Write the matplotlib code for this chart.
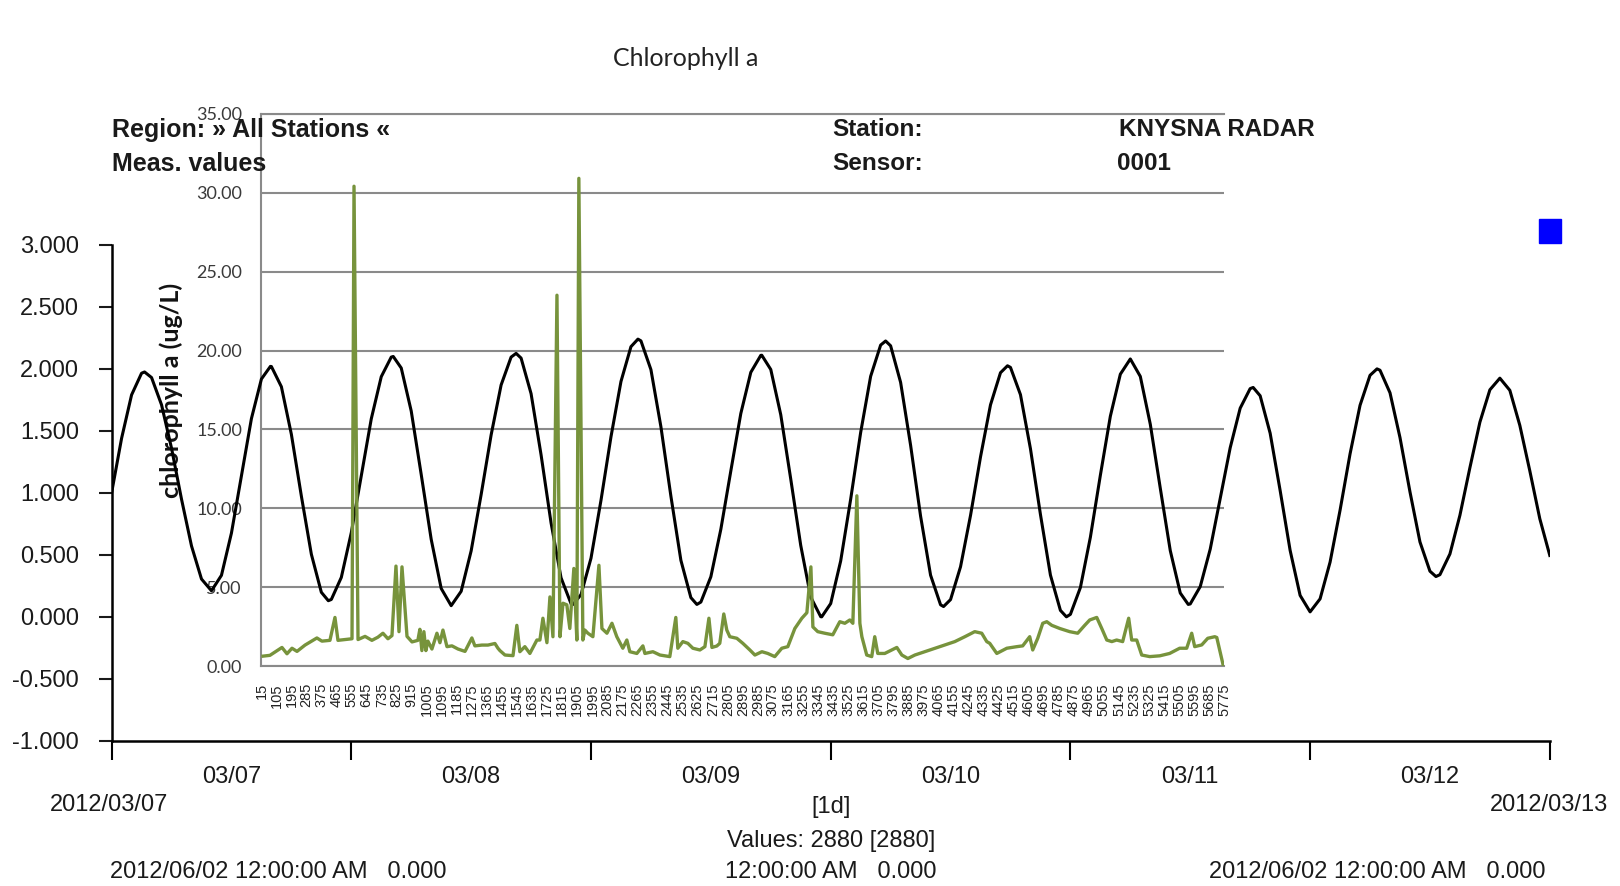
import numpy as np
import pandas as pd
import matplotlib
matplotlib.use('Agg')
import matplotlib.pyplot as plt
import matplotlib.dates as mdates
from matplotlib.patches import Rectangle

plt.rcParams['font.family'] = ['Liberation Sans', 'DejaVu Sans']

# tide level (outer chart), hourly from 2012/03/07 00:00 to 2012/03/13 00:00
tide_start = '2012-03-07 00:00'
tide_level = [1.00, 1.44, 1.79, 1.965, 1.93, 1.71, 1.36, 0.949, 0.572, 0.305, 0.21,
              0.335, 0.676, 1.138, 1.599, 1.918, 2.019, 1.856, 1.472, 0.974, 0.505,
              0.198, 0.140, 0.318, 0.679, 1.140, 1.597, 1.937, 2.095, 2.007, 1.660,
              1.148, 0.625, 0.229, 0.09, 0.206, 0.532, 0.986, 1.467, 1.870, 2.095,
              2.087, 1.800, 1.307, 0.758, 0.315, 0.106, 0.179, 0.473, 0.940, 1.452,
              1.898, 2.179, 2.226, 1.994, 1.533, 0.973, 0.456, 0.155, 0.119, 0.323,
              0.706, 1.177, 1.640, 1.972, 2.109, 1.995, 1.630, 1.111, 0.576, 0.159,
              0.001, 0.107, 0.451, 0.949, 1.487, 1.940, 2.192, 2.186, 1.891, 1.384,
              0.812, 0.336, 0.097, 0.139, 0.404, 0.818, 1.290, 1.710, 1.969, 2.012,
              1.792, 1.356, 0.826, 0.337, 0.052, 0.020, 0.236, 0.642, 1.142, 1.618,
              1.957, 2.08, 1.939, 1.553, 1.037, 0.534, 0.192, 0.104, 0.244, 0.546,
              0.953, 1.364, 1.683, 1.841, 1.783, 1.481, 1.019, 0.536, 0.173, 0.04,
              0.145, 0.441, 0.860, 1.314, 1.706, 1.948, 1.989, 1.807, 1.446, 1.008,
              0.604, 0.368, 0.340, 0.507, 0.819, 1.203, 1.570, 1.831, 1.925, 1.827,
              1.544, 1.177, 0.791, 0.495]
# high / low water (hours after start, level)
tide_ext_hours = [3.3, 15.9, 21.7, 28.2, 40.5, 46.2, 52.7, 58.6, 65.1, 71.1,
                  77.5, 83.3, 89.7, 95.6, 107.8, 114.3, 126.7, 132.6]
tide_ext_level = [1.975, 2.02, 0.13, 2.10, 2.125, 0.10, 2.24, 0.10, 2.11, 0.0,
                  2.225, 0.083, 2.025, 0.0, 0.10, 1.85, 2.0, 0.325]
tide_yticks = [-1.0, -0.5, 0.0, 0.5, 1.0, 1.5, 2.0, 2.5, 3.0]

# chlorophyll a (inner chart), sample number vs ug/L
chl_idx = [25, 66, 138, 168, 198, 228, 276, 347, 377, 425,
           455, 473, 557, 569, 593, 635, 676, 712, 742, 772,
           796, 820, 838, 856, 886, 916, 951, 963, 975, 987,
           999, 1011, 1035, 1065, 1083, 1101, 1125, 1155, 1191, 1233,
           1274, 1292, 1334, 1370, 1412, 1430, 1442, 1472, 1520, 1543,
           1561, 1591, 1621, 1663, 1681, 1699, 1723, 1741, 1759, 1783,
           1801, 1819, 1842, 1860, 1884, 1902, 1914, 1938, 1950, 1968,
           1998, 2034, 2052, 2082, 2112, 2141, 2177, 2201, 2219, 2261,
           2297, 2309, 2357, 2399, 2458, 2494, 2506, 2536, 2566, 2596,
           2638, 2668, 2692, 2710, 2739, 2757, 2781, 2799, 2817, 2859,
           2895, 2937, 2967, 3009, 3044, 3086, 3128, 3164, 3206, 3248,
           3278, 3302, 3314, 3343, 3385, 3433, 3475, 3505, 3535, 3553,
           3577, 3595, 3607, 3636, 3666, 3684, 3702, 3744, 3786, 3816,
           3846, 3882, 3924, 3983, 4043, 4103, 4163, 4223, 4282, 4324,
           4354, 4372, 4414, 4474, 4534, 4569, 4611, 4629, 4659, 4689,
           4713, 4743, 4791, 4850, 4898, 4940, 4970, 5012, 5042, 5072,
           5102, 5131, 5167, 5203, 5221, 5251, 5281, 5329, 5389, 5448,
           5508, 5550, 5580, 5598, 5640, 5676, 5718, 5730, 5770]
chl_val = [0.65, 0.7, 1.2, 0.8, 1.15, 0.95, 1.35, 1.8, 1.6, 1.65,
           3.1, 1.65, 1.75, 30.4, 1.7, 1.9, 1.65, 1.85, 2.1, 1.75,
           1.95, 6.35, 2.2, 6.3, 1.9, 1.55, 1.65, 2.35, 1.0, 2.2,
           1.0, 1.6, 1.1, 2.1, 1.5, 2.3, 1.25, 1.3, 1.1, 0.95,
           1.8, 1.3, 1.35, 1.35, 1.45, 1.15, 1.0, 0.72, 0.68, 2.6,
           0.93, 1.25, 0.82, 1.67, 1.67, 3.05, 1.5, 4.4, 1.88, 23.5,
           1.88, 4.0, 3.9, 2.4, 6.2, 1.67, 30.9, 1.67, 2.3, 2.1,
           1.88, 6.4, 2.4, 2.1, 2.73, 1.88, 1.15, 1.67, 0.93, 0.82,
           1.3, 0.82, 0.93, 0.72, 0.62, 3.1, 1.15, 1.57, 1.46, 1.15,
           1.04, 1.25, 3.05, 1.2, 1.29, 1.46, 3.32, 2.3, 1.88, 1.78,
           1.46, 1.04, 0.72, 0.93, 0.82, 0.62, 1.15, 1.25, 2.4, 3.05,
           3.4, 6.3, 2.5, 2.2, 2.1, 2.0, 2.83, 2.73, 2.94, 2.73,
           10.8, 2.73, 1.88, 0.72, 0.62, 1.88, 0.82, 0.82, 1.04, 1.2,
           0.72, 0.5, 0.72, 0.93, 1.15, 1.36, 1.57, 1.88, 2.2, 2.1,
           1.57, 1.46, 0.82, 1.15, 1.25, 1.3, 1.88, 1.04, 1.78, 2.73,
           2.83, 2.6, 2.4, 2.2, 2.1, 2.6, 2.94, 3.1, 2.4, 1.67,
           1.57, 1.67, 1.57, 3.05, 1.67, 1.67, 0.72, 0.62, 0.67, 0.82,
           1.15, 1.15, 2.1, 1.25, 1.36, 1.78, 1.88, 1.83, 0.0]
chl_yticks = [0, 5, 10, 15, 20, 25, 30, 35]
chl_xticks = list(range(15, 5776, 90))

W, H = 1620, 886


def box(x0, y0, x1, y1):
    # pixel box (top-left origin) -> figure fraction rect
    return [x0 / W, 1 - y1 / H, (x1 - x0) / W, (y1 - y0) / H]


fig = plt.figure(figsize=(16.2, 8.86), dpi=100)

inner = box(261.4, 113.6, 1224.3, 666.4)
grey = '#8a8a8a'

# inner chart: grid, axes and labels
ax2 = fig.add_axes(inner, zorder=0)
ax2.set_xlim(15, 5775)
ax2.set_ylim(0, 35)
ax2.set_yticks(chl_yticks)
ax2.set_yticklabels([f'{v:.2f}' for v in chl_yticks], fontfamily='Lato',
                    fontsize=13, color='#3a3a3a')
ax2.set_xticks(chl_xticks)
ax2.set_xticklabels([str(v) for v in chl_xticks], rotation=90, fontsize=10.5,
                    color='#222222',
                    fontfamily=['Liberation Sans Narrow', 'Liberation Sans'])
ax2.tick_params(axis='y', length=0, pad=14)
ax2.tick_params(axis='x', length=0, pad=12)
ax2.grid(axis='y', color=grey, lw=1.5)
ax2.set_axisbelow(True)
for s in ['left', 'bottom', 'top']:
    ax2.spines[s].set_color(grey)
    ax2.spines[s].set_linewidth(1.5)
ax2.spines['right'].set_visible(False)
ax2.set_ylabel('chlorophyll a (ug/L)', fontfamily='Lato', fontweight='bold',
               fontsize=18, color='#111111')
ax2.yaxis.set_label_coords(-0.0814, 0.5)

# outer chart: tide level, hourly readings plus the turning points
tide_t = pd.date_range(tide_start, periods=len(tide_level), freq='h')
ext_t = pd.Timestamp(tide_start) + pd.to_timedelta(tide_ext_hours, unit='h')
tide = pd.Series(tide_level + tide_ext_level,
                 index=tide_t.append(ext_t)).sort_index()

ax1 = fig.add_axes(box(111.6, 244.9, 1549.8, 740.8), zorder=1)
ax1.set_facecolor('none')
ax1.plot(tide.index, tide.values, color='black', lw=2.2)
ax1.set_xlim(pd.Timestamp('2012-03-07'), pd.Timestamp('2012-03-13'))
ax1.set_ylim(-1, 3)
ax1.set_yticks(tide_yticks)
ax1.set_yticklabels([f'{v:.3f}' for v in tide_yticks])
ax1.tick_params(axis='y', length=9.6, width=1.5, pad=14, labelsize=17,
                colors='#1a1a1a')
ax1.xaxis.set_major_locator(mdates.DayLocator())
ax1.xaxis.set_major_formatter(plt.NullFormatter())
ax1.xaxis.set_minor_locator(mdates.HourLocator(byhour=[12]))
ax1.xaxis.set_minor_formatter(mdates.DateFormatter('%m/%d'))
ax1.tick_params(axis='x', which='major', length=13.4, width=1.5)
ax1.tick_params(axis='x', which='minor', length=0, pad=18, labelsize=17,
                colors='#1a1a1a')
for s in ['top', 'right']:
    ax1.spines[s].set_visible(False)
for s in ['left', 'bottom']:
    ax1.spines[s].set_linewidth(1.8)

# green chlorophyll line on top of everything
ax3 = fig.add_axes(inner, zorder=2)
ax3.set_facecolor('none')
ax3.set_xlim(15, 5775)
ax3.set_ylim(0, 35)
ax3.axis('off')
ax3.plot(chl_idx, chl_val, color='#77933C', lw=2.4)

# header / footer texts
head = dict(fontsize=17.5, fontweight='bold', color='#1a1a1a', va='center')
foot = dict(fontsize=17, color='#1a1a1a', va='center')
fig.text(686 / W, 1 - 59 / H, 'Chlorophyll a', fontfamily='Lato', fontsize=18,
         color='#222222', ha='center', va='center')
fig.text(112 / W, 1 - 130 / H, 'Region: » All Stations «', **{**head, 'fontsize': 18})
fig.text(112 / W, 1 - 164 / H, 'Meas. values', **{**head, 'fontsize': 18})
fig.text(832 / W, 1 - 130 / H, 'Station:', **head)
fig.text(832 / W, 1 - 164 / H, 'Sensor:', **head)
fig.text(1119 / W, 1 - 130 / H, 'KNYSNA RADAR', **head)
fig.text(1117 / W, 1 - 164 / H, '0001', **head)
fig.text(109 / W, 1 - 805 / H, '2012/03/07', ha='center', **foot)
fig.text(1549 / W, 1 - 805 / H, '2012/03/13', ha='center', **foot)
fig.text(831 / W, 1 - 807 / H, '[1d]', ha='center', **foot)
fig.text(831 / W, 1 - 841 / H, 'Values: 2880 [2880]', ha='center', **foot)
fig.text(831 / W, 1 - 872 / H, '12:00:00 AM   0.000', ha='center', **foot)
fig.text(110 / W, 1 - 872 / H, '2012/06/02 12:00:00 AM   0.000', **foot)
fig.text(1209 / W, 1 - 872 / H, '2012/06/02 12:00:00 AM   0.000', **foot)

# blue legend square
fig.patches.append(Rectangle((1539 / W, 1 - 243 / H), 22 / W, 24 / H,
                             transform=fig.transFigure, color='#0000ff'))

fig.savefig('out.png', dpi=100)
